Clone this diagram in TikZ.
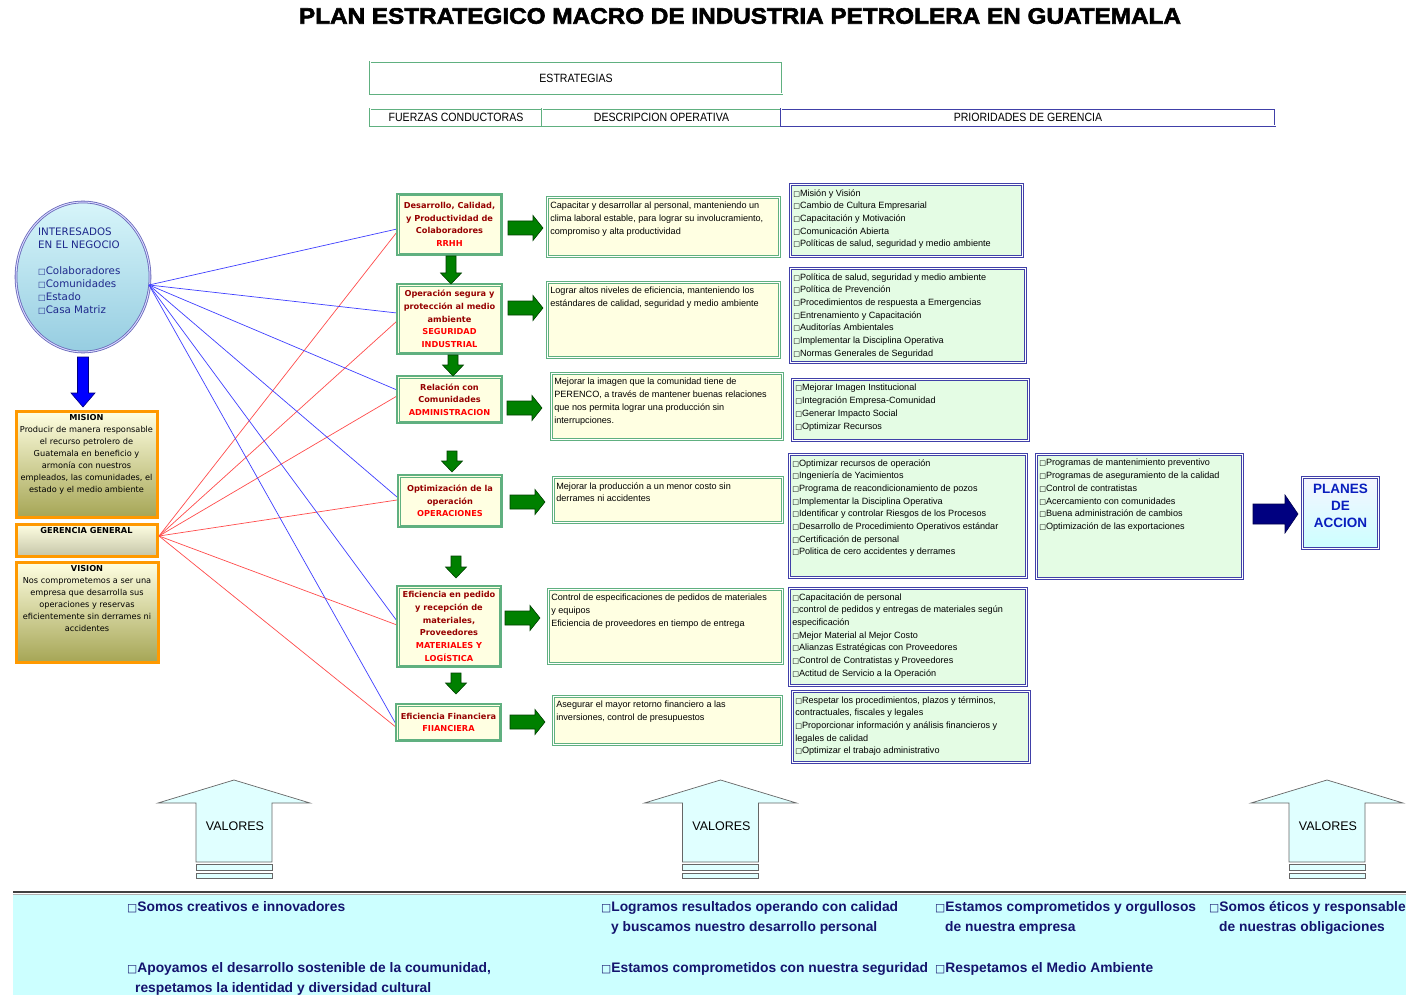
\documentclass[tikz,border=0pt]{standalone}
\usepackage{fontspec}
\setmainfont{Liberation Sans}
\newfontfamily\dv{DejaVu Sans}
\newfontfamily\narrowf[FakeStretch=0.88]{Liberation Sans}
\newfontfamily\titlef[FakeStretch=1.08,BoldFeatures={FakeBold=2.5}]{Liberation Sans}
\usetikzlibrary{shapes.geometric}
\definecolor{grn}{RGB}{96,176,128}
\definecolor{lyel}{RGB}{255,255,226}
\definecolor{dred}{RGB}{150,0,0}
\definecolor{bred}{RGB}{255,0,0}
\definecolor{pblue}{RGB}{64,64,168}
\definecolor{lgrn}{RGB}{228,252,228}
\definecolor{navyc}{RGB}{0,0,128}
\definecolor{garr}{RGB}{0,128,0}
\definecolor{bandc}{RGB}{204,255,255}
\definecolor{bandtxt}{RGB}{20,20,110}
\definecolor{orng}{RGB}{255,153,0}
\definecolor{cblue}{RGB}{30,40,140}
\definecolor{valf}{RGB}{224,255,255}
\definecolor{ctop}{RGB}{215,245,250}
\definecolor{cbot}{RGB}{150,205,225}
\definecolor{plantxt}{RGB}{10,30,190}
\newcommand\bx{\scalebox{0.78}{\dv\symbol{"25A1}}}
\newcommand\pb[3]{\parbox[c][#2][t]{#1}{\raggedright #3}}
\newcommand\pbc[3]{\parbox[c][#2][t]{#1}{\centering #3}}
\newcommand\fzt[1]{\parbox{102pt}{\centering\color{dred}#1}}
\newcommand\garrD[3]{\filldraw[grarrow] (#1-5,#2) -- (#1+5,#2) -- (#1+5,#3-11) -- (#1+10.5,#3-11) -- (#1,#3) -- (#1-10.5,#3-11) -- (#1-5,#3-11) -- cycle;}
\newcommand\garrR[2]{\filldraw[grarrow] (#1,#2-7) -- (#1+25,#2-7) -- (#1+25,#2-12.5) -- (#1+35,#2) -- (#1+25,#2+12.5) -- (#1+25,#2+7) -- (#1,#2+7) -- cycle;}
\begin{document}
\begin{tikzpicture}[x=1pt,y=-1pt,
  fzbox/.style={draw=grn, line width=1.2pt, fill=lyel, font=\dv\bfseries\fontsize{8.2}{12.7}\selectfont, inner sep=1pt},
  fzinner/.style={draw=grn, line width=0.6pt},
  descbox/.style={draw=grn, double=white, double distance=1.2pt, line width=0.7pt, fill=lyel, anchor=north west, inner xsep=3pt, inner ysep=5pt, font=\fontsize{9.1}{12.8}\selectfont},
  priobox/.style={draw=pblue, double=white, double distance=1.2pt, line width=0.7pt, fill=lgrn, anchor=north west, inner xsep=3pt, inner ysep=5pt, font=\fontsize{9.1}{12.7}\selectfont},
  hdrbox/.style={draw=grn, double=white, double distance=1pt, line width=0.8pt, fill=white, font=\narrowf\fontsize{12}{14}\selectfont, inner sep=0pt},
  misbox/.style={draw=orng, line width=3pt, top color=lyel, middle color=lyel!80!olive!60, bottom color=olive!45!gray!70, anchor=north west, inner sep=3pt, font=\dv\fontsize{8.2}{12}\selectfont},
  grarrow/.style={fill=garr, draw=garr!50!black, line width=0.6pt},
  blline/.style={draw=blue!75, line width=0.7pt},
  rdline/.style={draw=red!70, line width=0.7pt},
  valarrow/.style={fill=valf, draw=gray!80!black, line width=0.7pt},
  bandtext/.style={anchor=north west, inner sep=0pt, align=left, font=\bfseries\fontsize{13.8}{20}\selectfont}
]
\useasboundingbox (0,0) rectangle (1406,995);
\clip (0,0) rectangle (1406,995);
\fill[white] (0,0) rectangle (1406,995);

% title
\node[font=\titlef\bfseries\fontsize{22.5}{26}\selectfont] (title) at (740,16) {PLAN ESTRATEGICO MACRO DE INDUSTRIA PETROLERA EN GUATEMALA};

% headers
\node[hdrbox, minimum width=412pt, minimum height=32pt] (estr) at (576,78) {ESTRATEGIAS};
\node[hdrbox, minimum width=172pt, minimum height=17pt] (hfz) at (456,117.5) {FUERZAS CONDUCTORAS};
\node[hdrbox, minimum width=239pt, minimum height=17pt] (hdo) at (661.5,117.5) {DESCRIPCION OPERATIVA};
\node[hdrbox, draw=pblue, minimum width=494pt, minimum height=17pt] (hpg) at (1028,117.5) {PRIORIDADES DE GERENCIA};

% stakeholders circle
\node[ellipse, minimum width=134pt, minimum height=150pt, top color=ctop, bottom color=cbot, draw=pblue!80, double=blue!15, double distance=1pt, line width=0.8pt] (stk) at (83,277) {};
\node[anchor=north west, inner sep=0pt, font=\dv\fontsize{10.3}{13}\selectfont] (stkt) at (38,228) {\parbox[t]{100pt}{\raggedright\color{cblue}INTERESADOS\\EN EL NEGOCIO\\[12.4pt]\bx Colaboradores\\\bx Comunidades\\\bx Estado\\\bx Casa Matriz}};
\coordinate (sb) at (149,285);

% blue down arrow
\filldraw[fill=blue, draw=navyc, line width=0.6pt] (77.5,357) -- (88.5,357) -- (88.5,393) -- (95,393) -- (83,407) -- (71,393) -- (77.5,393) -- cycle;

% mision / gerencia / vision
\node[misbox] (mis) at (14.5,409.5) {\pbc{135pt}{100pt}{\textbf{MISION}\\Producir de manera responsable\\el recurso petrolero de\\Guatemala en beneficio y\\armonía con nuestros\\empleados, las comunidades, el\\estado y el medio ambiente}};
\node[misbox, bottom color=olive!25!gray!45] (ger) at (14.5,522.5) {\pbc{135pt}{26pt}{\textbf{GERENCIA GENERAL}}};
\node[misbox] (vis) at (14.5,560.5) {\pbc{136pt}{94pt}{\textbf{VISION}\\Nos comprometemos a ser una\\empresa que desarrolla sus\\operaciones y reservas\\eficientemente sin derrames ni\\accidentes}};
\coordinate (gg) at (159,536);

% connector lines
\foreach \b/\by/\ry in {1/229/232, 2/313/321, 3/390/396, 4/497/500, 5/621/625, 6/726/728} {
  \coordinate (eb\b) at (397,\by);
  \coordinate (er\b) at (397,\ry);
  \draw[blline] (sb) -- (eb\b);
  \draw[rdline] (gg) -- (er\b);
}

% fuerzas conductoras
\node[fzbox, minimum width=105pt, minimum height=61pt] (f1) at (449.5,224.5) {\fzt{Desarrollo, Calidad,\\y Productividad de\\Colaboradores\\\color{bred}RRHH}};
\node[fzbox, minimum width=105pt, minimum height=70pt] (f2) at (449.5,319) {\fzt{Operación segura y\\protección al medio\\ambiente\\\color{bred}SEGURIDAD\\INDUSTRIAL}};
\node[fzbox, minimum width=105pt, minimum height=47pt] (f3) at (449.5,399.5) {\fzt{Relación con\\Comunidades\\\color{bred}ADMINISTRACION}};
\node[fzbox, minimum width=104pt, minimum height=52pt] (f4) at (450,501) {\fzt{Optimización de la\\operación\\\color{bred}OPERACIONES}};
\node[fzbox, minimum width=104pt, minimum height=81pt] (f5) at (449,626.5) {\fzt{Eficiencia en pedido\\y recepción de\\materiales,\\Proveedores\\\color{bred}MATERIALES Y\\LOGÍSTICA}};
\node[fzbox, minimum width=105pt, minimum height=37pt] (f6) at (448.5,722.5) {\fzt{Eficiencia Financiera\\\color{bred}FIIANCIERA}};
\foreach \f in {f1,f2,f3,f4,f5,f6} {
  \draw[fzinner] ([xshift=2.4pt,yshift=-2.4pt]\f.north west) rectangle ([xshift=-2.4pt,yshift=2.4pt]\f.south east);
}

% green arrows
\garrD{451}{256}{284}
\garrD{453}{355}{376}
\garrD{452}{451}{472}
\garrD{456}{556}{578}
\garrD{456}{673}{694}
\garrR{508}{228}
\garrR{508}{308}
\garrR{507}{408}
\garrR{510}{502}
\garrR{505}{618}
\garrR{510}{722}

% descripcion operativa
\node[descbox] (d1) at (547,197) {\pb{226pt}{49pt}{Capacitar y desarrollar al personal, manteniendo un\\clima laboral estable, para lograr su involucramiento,\\compromiso y alta productividad}};
\node[descbox] (d2) at (547,282) {\pb{226pt}{65pt}{Lograr altos niveles de eficiencia, manteniendo los\\estándares de calidad, seguridad y medio ambiente}};
\node[descbox] (d3) at (551,373) {\pb{225pt}{56pt}{Mejorar la imagen que la comunidad tiene de\\PERENCO, a través de mantener buenas relaciones\\que nos permita lograr una producción sin\\interrupciones.}};
\node[descbox] (d4) at (553,477) {\pb{223pt}{35pt}{Mejorar la producción a un menor costo sin\\derrames ni accidentes}};
\node[descbox] (d5) at (548,589) {\pb{228pt}{64pt}{Control de especificaciones de pedidos de materiales\\y equipos\\Eficiencia de proveedores en tiempo de entrega}};
\node[descbox] (d6) at (553,696) {\pb{222pt}{38pt}{Asegurar el mayor retorno financiero a las\\inversiones, control de presupuestos}};

% prioridades de gerencia
\node[priobox] (p1) at (790,184) {\pb{226pt}{62pt}{\bx Misión y Visión\\\bx Cambio de Cultura Empresarial\\\bx Capacitación y Motivación\\\bx Comunicación Abierta\\\bx Políticas de salud, seguridad y medio ambiente}};
\node[priobox] (p2) at (790,268) {\pb{229pt}{84pt}{\bx Política de salud, seguridad y medio ambiente\\\bx Política de Prevención\\\bx Procedimientos de respuesta a Emergencias\\\bx Entrenamiento y Capacitación\\\bx Auditorías Ambientales\\\bx Implementar la Disciplina Operativa\\\bx Normas Generales de Seguridad}};
\node[priobox] (p3) at (792,379) {\pb{230pt}{51pt}{\bx Mejorar Imagen Institucional\\\bx Integración Empresa-Comunidad\\\bx Generar Impacto Social\\\bx Optimizar Recursos}};
\node[priobox] (p4) at (789,454) {\pb{231pt}{113pt}{\bx Optimizar recursos de operación\\\bx Ingeniería de Yacimientos\\\bx Programa de reacondicionamiento de pozos\\\bx Implementar la Disciplina Operativa\\\bx Identificar y controlar Riesgos de los Procesos\\\bx Desarrollo de Procedimiento Operativos estándar\\\bx Certificación de personal\\\bx Politica de cero accidentes y derrames}};
\node[priobox] (p5) at (1036,454) {\pb{200pt}{114pt}{\bx Programas de mantenimiento preventivo\\\bx Programas de aseguramiento de la calidad\\\bx Control de contratistas\\\bx Acercamiento con comunidades\\\bx Buena administración de cambios\\\bx Optimización de las exportaciones}};
\node[priobox] (p6) at (789,588) {\pb{231pt}{87pt}{\bx Capacitación de personal\\\bx control de pedidos y entregas de materiales según\\especificación\\\bx Mejor Material al Mejor Costo\\\bx Alianzas Estratégicas con Proveedores\\\bx Control de Contratistas y Proveedores\\\bx Actitud de Servicio a la Operación}};
\node[priobox] (p7) at (792,691) {\pb{231pt}{61pt}{\bx Respetar los procedimientos, plazos y términos,\\contractuales, fiscales y legales\\\bx Proporcionar información y análisis financieros y\\legales de calidad\\\bx Optimizar el trabajo administrativo}};

% navy arrow and planes de accion
\filldraw[fill=navyc, draw=navyc!60!black, line width=0.6pt] (1253,504) -- (1285,504) -- (1285,495) -- (1298,514) -- (1285,533) -- (1285,524) -- (1253,524) -- cycle;
\node[draw=pblue, double=white, double distance=1.2pt, line width=0.8pt, top color=blue!4, bottom color=cyan!20, anchor=north west, inner xsep=3pt, inner ysep=7pt, font=\bfseries\fontsize{13.5}{17}\selectfont] (plan) at (1302,477) {\pbc{70pt}{57pt}{\color{plantxt}PLANES\\DE\\ACCION}};

% valores arrows
\foreach \cx/\i in {234/1, 720.5/2, 1327/3} {
  \filldraw[valarrow] (\cx,780) -- (\cx+76,803) -- (\cx+38,803) -- (\cx+38,862) -- (\cx-38,862) -- (\cx-38,803) -- (\cx-76,803) -- cycle;
  \filldraw[valarrow] (\cx-38,864) rectangle (\cx+38,870);
  \filldraw[valarrow] (\cx-38,873) rectangle (\cx+38,878);
  \node[font=\fontsize{12.5}{14}\selectfont] (val\i) at (\cx+1,826) {VALORES};
}

% bottom band
\fill[bandc] (13,894) rectangle (1406,995);
\draw[gray!60, line width=1pt] (13,894.5) -- (1406,894.5);
\draw[black!75, line width=1.5pt] (13,892) -- (1406,892);
\node[bandtext] (v1) at (127,901.5) {\color{bandtxt}\bx Somos creativos e innovadores};
\node[bandtext] (v2) at (127,962.5) {\color{bandtxt}\bx Apoyamos el desarrollo sostenible de la coumunidad,\\\color{bandtxt}\hspace*{8pt}respetamos la identidad y diversidad cultural};
\node[bandtext] (v3) at (601,901.5) {\color{bandtxt}\bx Logramos resultados operando con calidad\\\color{bandtxt}\hspace*{10pt}y buscamos nuestro desarrollo personal};
\node[bandtext] (v4) at (601,962.5) {\color{bandtxt}\bx Estamos comprometidos con nuestra seguridad};
\node[bandtext] (v5) at (935,901.5) {\color{bandtxt}\bx Estamos comprometidos y orgullosos\\\color{bandtxt}\hspace*{10pt}de nuestra empresa};
\node[bandtext] (v6) at (935,962.5) {\color{bandtxt}\bx Respetamos el Medio Ambiente};
\node[bandtext] (v7) at (1209,901.5) {\color{bandtxt}\bx Somos éticos y responsables\\\color{bandtxt}\hspace*{10pt}de nuestras obligaciones};
\end{tikzpicture}
\end{document}
